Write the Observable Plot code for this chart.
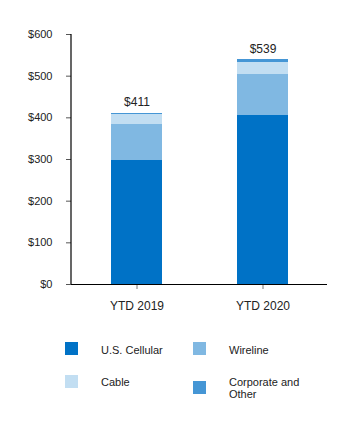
<!DOCTYPE html>
<html>
<head>
<meta charset="utf-8">
<script src="https://cdn.jsdelivr.net/npm/d3@7"></script>
<script src="https://cdn.jsdelivr.net/npm/@observablehq/plot@0.6"></script>
<style>
  body { margin: 0; background: #fff; font-family: "Liberation Sans", Arial, sans-serif; }
  #wrap { position: relative; width: 360px; height: 429px; }
  #legend { position: absolute; left: 0; top: 0; width: 360px; }
  .sw { position: absolute; width: 13px; height: 13px; }
  .lt { position: absolute; font-size: 11px; color: #222; line-height: 12px; }
</style>
</head>
<body>
<div id="wrap"><div id="chart"></div><div id="legend"></div></div>
<script>
const periods = ["YTD 2019", "YTD 2020"];
const segments = ["U.S. Cellular", "Wireline", "Cable", "Corporate and Other"];
const usCellular = [297, 405];
const wireline = [86, 100];
const cable = [24, 29];
const corporate = [4, 5];
const totals = [411, 539];
const colors = ["#0072c6", "#80b8e2", "#c2def2", "#4596d5"];
const yTicks = [0, 100, 200, 300, 400, 500, 600];

const series = [usCellular, wireline, cable, corporate];
const rows = [];
periods.forEach((p, i) => {
  segments.forEach((s, j) => rows.push({period: p, segment: s, value: series[j][i]}));
});
const totalRows = periods.map((p, i) => ({period: p, total: totals[i]}));

const leftLine = (index, scales, values, dim) => {
  const l = document.createElementNS("http://www.w3.org/2000/svg", "line");
  l.setAttribute("x1", dim.marginLeft); l.setAttribute("x2", dim.marginLeft);
  l.setAttribute("y1", dim.marginTop); l.setAttribute("y2", dim.height - dim.marginBottom);
  l.setAttribute("stroke", "#000"); l.setAttribute("stroke-width", 1.2);
  return l;
};

const plot = Plot.plot({
  width: 360,
  height: 320,
  marginLeft: 71,
  marginRight: 33,
  marginTop: 34,
  marginBottom: 36,
  style: {fontFamily: "Liberation Sans, Arial, sans-serif", fontSize: "11px", color: "#222", background: "#fff"},
  x: {domain: periods, paddingInner: 0.598, paddingOuter: 0.307, label: null},
  y: {domain: [0, 600], label: null},
  color: {domain: segments, range: colors},
  marks: [
    Plot.barY(rows, Plot.stackY({x: "period", y: "value", fill: "segment", order: segments, shapeRendering: "crispEdges"})),
    Plot.axisY({ticks: yTicks, tickFormat: d => "$" + d, tickSize: 5, tickPadding: 14, fontSize: 11, stroke: "#555"}),
    Plot.axisX({tickSize: 5, tickPadding: 12, fontSize: 12, stroke: "#777"}),
    Plot.ruleY([0], {stroke: "#000", strokeWidth: 1.2}),
    leftLine,
    Plot.text(totalRows, {x: "period", y: "total", text: d => "$" + d.total, dy: -11, fontSize: 12, fill: "#222"})
  ]
});
document.getElementById("chart").appendChild(plot);

const legend = document.getElementById("legend");
const pos = [
  {sx: 65, sy: 342, tx: 101, ty: 344},
  {sx: 193, sy: 342, tx: 229, ty: 344},
  {sx: 65, sy: 375, tx: 101, ty: 376},
  {sx: 193, sy: 381, tx: 229, ty: 376}
];
segments.forEach((s, i) => {
  const sw = document.createElement("div");
  sw.className = "sw";
  sw.style.left = pos[i].sx + "px"; sw.style.top = pos[i].sy + "px";
  sw.style.background = colors[i];
  legend.appendChild(sw);
  const t = document.createElement("div");
  t.className = "lt";
  t.style.left = pos[i].tx + "px"; t.style.top = pos[i].ty + "px";
  t.style.width = i === 3 ? "75px" : "110px";
  t.textContent = s;
  legend.appendChild(t);
});
</script>
</body>
</html>
